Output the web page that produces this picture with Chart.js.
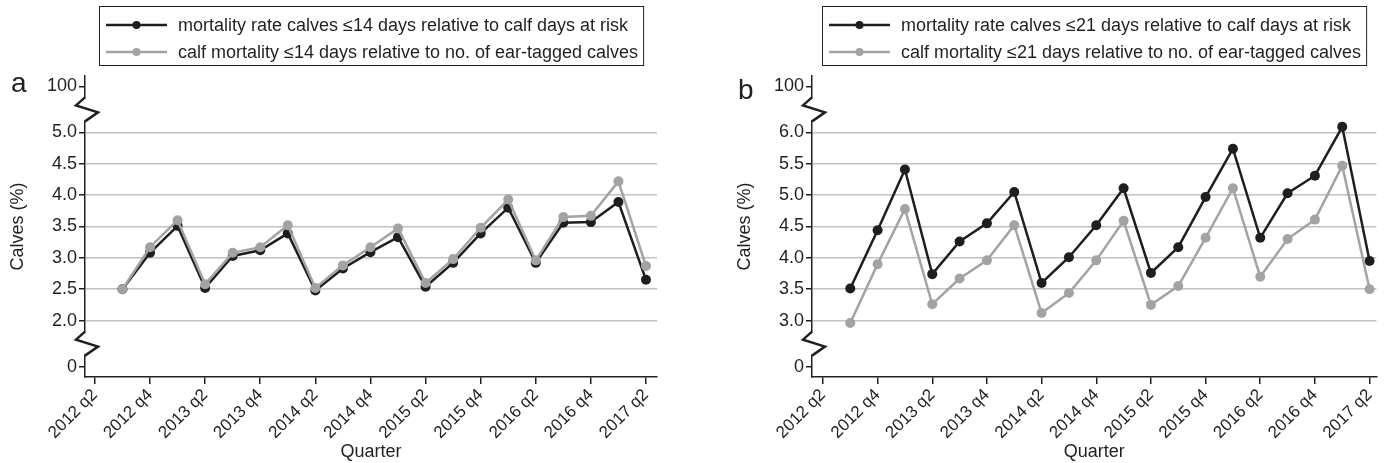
<!DOCTYPE html>
<html>
<head>
<meta charset="utf-8">
<script src="https://cdn.jsdelivr.net/npm/chart.js@4.4.0/dist/chart.umd.min.js"></script>
<style>
  html, body { margin: 0; padding: 0; background: #fff; }
  #wrap { position: relative; width: 1385px; height: 463px; }
  .panel { position: absolute; top: 0; height: 463px; }
  #panelA { left: 0; width: 690px; }
  #panelB { left: 690px; width: 695px; }
</style>
</head>
<body>
<div id="wrap">
  <div class="panel" id="panelA"><canvas id="chartA"></canvas></div>
  <div class="panel" id="panelB"><canvas id="chartB"></canvas></div>
</div>
<script>
var quarters = ['2012 q2', '2012 q3', '2012 q4',
    '2013 q1', '2013 q2', '2013 q3', '2013 q4',
    '2014 q1', '2014 q2', '2014 q3', '2014 q4',
    '2015 q1', '2015 q2', '2015 q3', '2015 q4',
    '2016 q1', '2016 q2', '2016 q3', '2016 q4',
    '2017 q1', '2017 q2'];

// values start at 2012 q3
var rate14   = [2.50, 3.08, 3.51, 2.52, 3.03, 3.12, 3.39, 2.48, 2.83, 3.09, 3.33, 2.54, 2.92, 3.39, 3.80, 2.92, 3.56, 3.57, 3.89, 2.65];
var tagged14 = [2.50, 3.17, 3.60, 2.58, 3.08, 3.17, 3.52, 2.52, 2.88, 3.17, 3.47, 2.60, 2.98, 3.48, 3.93, 2.96, 3.65, 3.67, 4.22, 2.87];
var rate21   = [3.51, 4.44, 5.41, 3.74, 4.26, 4.55, 5.05, 3.60, 4.01, 4.52, 5.11, 3.76, 4.17, 4.97, 5.74, 4.32, 5.03, 5.31, 6.09, 3.95];
var tagged21 = [2.96, 3.90, 4.78, 3.26, 3.67, 3.96, 4.52, 3.12, 3.44, 3.96, 4.59, 3.25, 3.55, 4.32, 5.11, 3.70, 4.30, 4.61, 5.47, 3.50];

var gridA = [2.0, 2.5, 3.0, 3.5, 4.0, 4.5, 5.0];
var gridB = [3.0, 3.5, 4.0, 4.5, 5.0, 5.5, 6.0];

var labelsA = ['mortality rate calves \u226414 days relative to calf days at risk',
               'calf mortality \u226414 days relative to no. of ear-tagged calves'];
var labelsB = ['mortality rate calves \u226421 days relative to calf days at risk',
               'calf mortality \u226421 days relative to no. of ear-tagged calves'];

var FONT = "'Liberation Sans Narrow', 'Arial Narrow', 'Liberation Sans', Arial, sans-serif";
var INK = '#231f20';
var DARK = '#1e1e1e';
var LIGHT = '#a3a3a3';
var GRID = '#c2c2c2';

var breakGap = 0.735;   // distance (in axis units) from the last real tick to the "0"/"100" ticks
var axisPad = 0.9;

Chart.defaults.font.family = FONT;
Chart.defaults.color = INK;

function toPoints(values) {
    return values.map(function (v, i) { return { x: i + 1, y: v }; });
}

// boxed legend with line + dot samples, and the axis break marks
var panelExtras = {
    id: 'panelExtras',
    afterDraw: function (chart, args, opts) {
        var ctx = chart.ctx;
        var area = chart.chartArea;
        var y = chart.scales.y;
        ctx.save();

        // legend
        ctx.font = '18px ' + FONT;
        var sets = chart.data.datasets;
        var textW = 0;
        sets.forEach(function (d) { textW = Math.max(textW, ctx.measureText(d.label).width); });
        var sampleW = 61, gap = 11, padL = 7, padR = 5;
        var boxW = padL + sampleW + gap + textW + padR;
        var boxL = Math.round((area.left + area.right) / 2 - boxW / 2);
        var top = 6, boxH = 59;
        ctx.strokeStyle = INK;
        ctx.lineWidth = 1;
        ctx.strokeRect(boxL + 0.5, top + 0.5, boxW, boxH);
        sets.forEach(function (d, i) {
            var cy = top + 19 + i * 27;
            var sx = boxL + padL;
            ctx.strokeStyle = d.borderColor;
            ctx.lineWidth = 2.5;
            ctx.beginPath();
            ctx.moveTo(sx, cy);
            ctx.lineTo(sx + sampleW, cy);
            ctx.stroke();
            ctx.fillStyle = d.borderColor;
            ctx.beginPath();
            ctx.arc(sx + sampleW / 2, cy, 4, 0, Math.PI * 2);
            ctx.fill();
            ctx.fillStyle = INK;
            ctx.textBaseline = 'middle';
            ctx.textAlign = 'left';
            ctx.fillText(d.label, sx + sampleW + gap, cy + 1);
        });

        // panel letter
        ctx.font = '28px ' + FONT;
        ctx.textBaseline = 'alphabetic';
        ctx.fillStyle = INK;
        ctx.fillText(opts.letter, opts.letterX, opts.letterY);

        // zigzag breaks on the y axis
        var ax = y.right;
        var mids = [
            (y.getPixelForValue(opts.hi) + y.getPixelForValue(opts.hi + breakGap)) / 2,
            (y.getPixelForValue(opts.lo) + y.getPixelForValue(opts.lo - breakGap)) / 2
        ];
        mids.forEach(function (my) {
            ctx.fillStyle = '#fff';
            ctx.fillRect(ax - 2, my - 11, 4, 22);
            ctx.strokeStyle = INK;
            ctx.lineWidth = 2.5;
            ctx.lineJoin = 'miter';
            ctx.beginPath();
            ctx.moveTo(ax, my - 12);
            ctx.lineTo(ax - 9, my - 4);
            ctx.lineTo(ax + 13, my + 3);
            ctx.lineTo(ax, my + 12);
            ctx.stroke();
        });
        ctx.restore();
    }
};

function makeChart(id, labels, rate, tagged, grid, xMin, xMax, padLeft, padRight, letter, letterX, letterY) {
    var lo = grid[0], hi = grid[grid.length - 1];
    var ctx = document.getElementById(id).getContext('2d');
    return new Chart(ctx, {
        type: 'line',
        data: {
            datasets: [{
                label: labels[0],
                data: toPoints(rate),
                borderColor: DARK,
                backgroundColor: DARK,
                borderWidth: 2.5,
                pointRadius: 5,
                pointBorderWidth: 0,
                order: 1
            }, {
                label: labels[1],
                data: toPoints(tagged),
                borderColor: LIGHT,
                backgroundColor: LIGHT,
                borderWidth: 2.5,
                pointRadius: 5,
                pointBorderWidth: 0,
                order: 0
            }]
        },
        options: {
            responsive: true,
            maintainAspectRatio: false,
            animation: false,
            layout: {
                autoPadding: false,
                padding: { top: 76, left: padLeft, right: padRight, bottom: 0 }
            },
            plugins: {
                legend: { display: false },
                tooltip: { enabled: false },
                panelExtras: { letter: letter, letterX: letterX, letterY: letterY, lo: lo, hi: hi }
            },
            scales: {
                x: {
                    type: 'linear',
                    min: xMin,
                    max: xMax,
                    afterBuildTicks: function (scale) {
                        var t = [];
                        for (var i = 0; i < quarters.length; i += 2) t.push({ value: i });
                        scale.ticks = t;
                    },
                    afterFit: function (scale) { scale.height = 86; },
                    ticks: {
                        autoSkip: false,
                        minRotation: 45,
                        maxRotation: 45,
                        padding: 1,
                        font: { size: 17 },
                        callback: function (v) { return quarters[v]; }
                    },
                    grid: { drawOnChartArea: false, tickColor: INK, tickLength: 7, lineWidth: 1.5 },
                    border: { color: INK, width: 1.5 },
                    title: { display: true, text: 'Quarter', font: { size: 18 }, padding: 0 }
                },
                y: {
                    type: 'linear',
                    min: lo - axisPad,
                    max: hi + axisPad,
                    afterBuildTicks: function (scale) {
                        var t = [{ value: lo - breakGap }];
                        grid.forEach(function (v) { t.push({ value: v }); });
                        t.push({ value: hi + breakGap });
                        scale.ticks = t;
                    },
                    afterFit: function (scale) { scale.width = 85; },
                    ticks: {
                        padding: 2,
                        font: { size: 18 },
                        callback: function (v) {
                            if (v < lo - 0.01) return '0';
                            if (v > hi + 0.01) return '100';
                            return v.toFixed(1);
                        }
                    },
                    grid: {
                        color: function (c) {
                            var v = c.tick ? c.tick.value : null;
                            return (v !== null && v >= lo - 0.01 && v <= hi + 0.01) ? GRID : 'rgba(0,0,0,0)';
                        },
                        lineWidth: 1.5,
                        tickColor: INK,
                        tickLength: 6
                    },
                    border: { color: INK, width: 1.5 },
                    title: { display: true, text: 'Calves (%)', font: { size: 18 }, padding: { top: 7, bottom: 0 } }
                }
            }
        },
        plugins: [panelExtras]
    });
}

makeChart('chartA', labelsA, rate14, tagged14, gridA, -0.36, 20.4, 0, 33, 'a', 11, 92);
makeChart('chartB', labelsB, rate21, tagged21, gridB, -0.4, 20.25, 37, 0, 'b', 48, 99);
</script>
</body>
</html>
